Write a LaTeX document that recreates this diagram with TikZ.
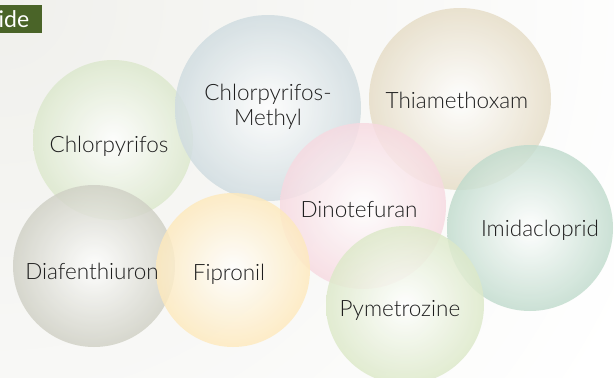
\documentclass[tikz,border=0pt]{standalone}
\usepackage{fontspec}
\setmainfont{Lato}[UprightFont=* Light]
\newfontfamily\tabfont{Lato}
\definecolor{cA}{HTML}{C6DAAD}
\definecolor{cB}{HTML}{B2C6CD}
\definecolor{cC}{HTML}{D6C7A3}
\definecolor{cD}{HTML}{F2C2CE}
\definecolor{cE}{HTML}{9AC5AE}
\definecolor{cF}{HTML}{C7DBA7}
\definecolor{cG}{HTML}{B2B3A1}
\definecolor{cH}{HTML}{FDDC94}
\definecolor{boxgreen}{HTML}{4A6428}
\definecolor{txt}{HTML}{1E1E1E}
\definecolor{bgtl}{HTML}{F0F0EC}
\pgfdeclareradialshading{shA}{\pgfpointorigin}{color(0bp)=(white); color(25bp)=(cA!62!white); color(50bp)=(cA)}
\pgfdeclareradialshading{shB}{\pgfpointorigin}{color(0bp)=(white); color(25bp)=(cB!62!white); color(50bp)=(cB)}
\pgfdeclareradialshading{shC}{\pgfpointorigin}{color(0bp)=(white); color(25bp)=(cC!62!white); color(50bp)=(cC)}
\pgfdeclareradialshading{shD}{\pgfpointorigin}{color(0bp)=(white); color(25bp)=(cD!62!white); color(50bp)=(cD)}
\pgfdeclareradialshading{shE}{\pgfpointorigin}{color(0bp)=(white); color(25bp)=(cE!62!white); color(50bp)=(cE)}
\pgfdeclareradialshading{shF}{\pgfpointorigin}{color(0bp)=(white); color(25bp)=(cF!62!white); color(50bp)=(cF)}
\pgfdeclareradialshading{shG}{\pgfpointorigin}{color(0bp)=(white); color(25bp)=(cG!62!white); color(50bp)=(cG)}
\pgfdeclareradialshading{shH}{\pgfpointorigin}{color(0bp)=(white); color(25bp)=(cH!62!white); color(50bp)=(cH)}
\pgfdeclareradialshading{bgsh}{\pgfpointorigin}{color(0bp)=(bgtl); color(25bp)=(white); color(50bp)=(white)}
\tikzset{
  bubble/.style={opacity=0.82},
  lbl/.style={text=txt, font=\fontsize{22.5}{25}\selectfont, align=center, inner sep=0pt},
}
\begin{document}
\begin{tikzpicture}[x=1pt,y=-1pt]
\useasboundingbox (0,0) rectangle (614,378);
\fill[white] (0,0) rectangle (614,378);
\begin{scope}
\clip (0,0) rectangle (614,378);
\shade[shading=bgsh] (-700,-700) rectangle (700,700);
\end{scope}
% bubbles
\shade[shading=shA, bubble] (113,140) circle (80);
\shade[shading=shB, bubble] (268,108) circle (93);
\shade[shading=shC, bubble] (460,99) circle (91);
\shade[shading=shD, bubble] (363,206) circle (83);
\shade[shading=shE, bubble] (530,228) circle (83);
\shade[shading=shG, bubble] (94,266) circle (81);
\shade[shading=shH, bubble] (233,270) circle (77);
\shade[shading=shF, bubble] (405,305) circle (79);
% labels
\node[lbl] (chl) at (109,146) {Chlorpyrifos};
\node[lbl] (chm) at (268,107) {Chlorpyrifos-\\Methyl};
\node[lbl] (thi) at (457,100) {Thiamethoxam};
\node[lbl] (din) at (359,210) {Dinotefuran};
\node[lbl] (imi) at (540,230) {Imidacloprid};
\node[lbl] (pym) at (400,310) {Pymetrozine};
\node[lbl] (dia) at (92,271) {Diafenthiuron};
\node[lbl] (fip) at (229,274) {Fipronil};
% header tab
\fill[boxgreen] (0,5) rectangle (42,33);
\node[text=white, font=\tabfont\fontsize{23}{25}\selectfont, anchor=west, inner sep=0pt] (tab) at (-1.5,19) {ide};
\end{tikzpicture}
\end{document}
